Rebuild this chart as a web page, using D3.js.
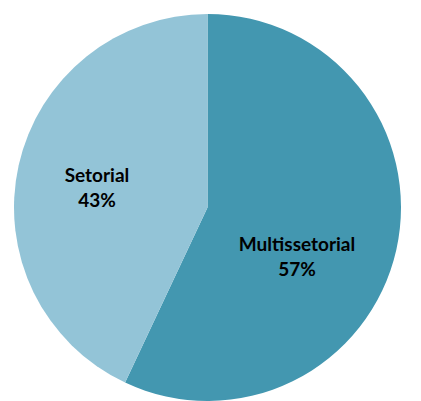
<!DOCTYPE html>
<html>
<head>
<meta charset="utf-8">
<script src="https://cdn.jsdelivr.net/npm/d3@7"></script>
<style>
  body { margin: 0; background: #fff; }
  svg { display: block; }
  text { font-family: Lato, "Open Sans", sans-serif; font-weight: bold; }
</style>
</head>
<body>
<div id="chart"><svg></svg></div>
<script>
// data
var categories = ["Multissetorial", "Setorial"];
var values = [57, 43];
var colors = ["#4397b0", "#93c4d7"];

var width = 421,
    height = 401,
    cx = 207.5,
    cy = 207.5,
    radius = 193.5;

var svg = d3.select('svg')
    .attr('width', width)
    .attr('height', height)
    .append('g')
    .attr('transform', 'translate(' + cx + ',' + cy + ')');

var pie = d3.pie().sort(null).value(d => d.value);
var arcs = pie(categories.map((c, i) => ({ name: c, value: values[i] })));

var arc = d3.arc().innerRadius(0).outerRadius(radius);

svg.selectAll('.slice')
    .data(arcs)
    .enter()
    .append('path')
    .attr('class', 'slice')
    .attr('d', arc)
    .style('fill', (d, i) => colors[i]);

// label placement, Excel puts them roughly here
var labelArc = d3.arc().innerRadius(radius * 0.58).outerRadius(radius * 0.58);
var nudge = [[-20, 26], [-1, 6]];

var totals = d3.sum(values);
var labels = svg.selectAll('.lbl')
    .data(arcs)
    .enter()
    .append('text')
    .attr('class', 'lbl')
    .attr('text-anchor', 'middle')
    .attr('transform', (d, i) => {
        var c = labelArc.centroid(d);
        return 'translate(' + (c[0] + nudge[i][0]) + ',' + (c[1] + nudge[i][1]) + ')';
    })
    .style('font-size', '19px')
    .style('fill', '#000');

labels.append('tspan')
    .attr('x', 0)
    .attr('y', -7)
    .text(d => d.data.name);

labels.append('tspan')
    .attr('x', 0)
    .attr('y', 18)
    .text(d => Math.round(d.data.value / totals * 100) + '%');
</script>
</body>
</html>
